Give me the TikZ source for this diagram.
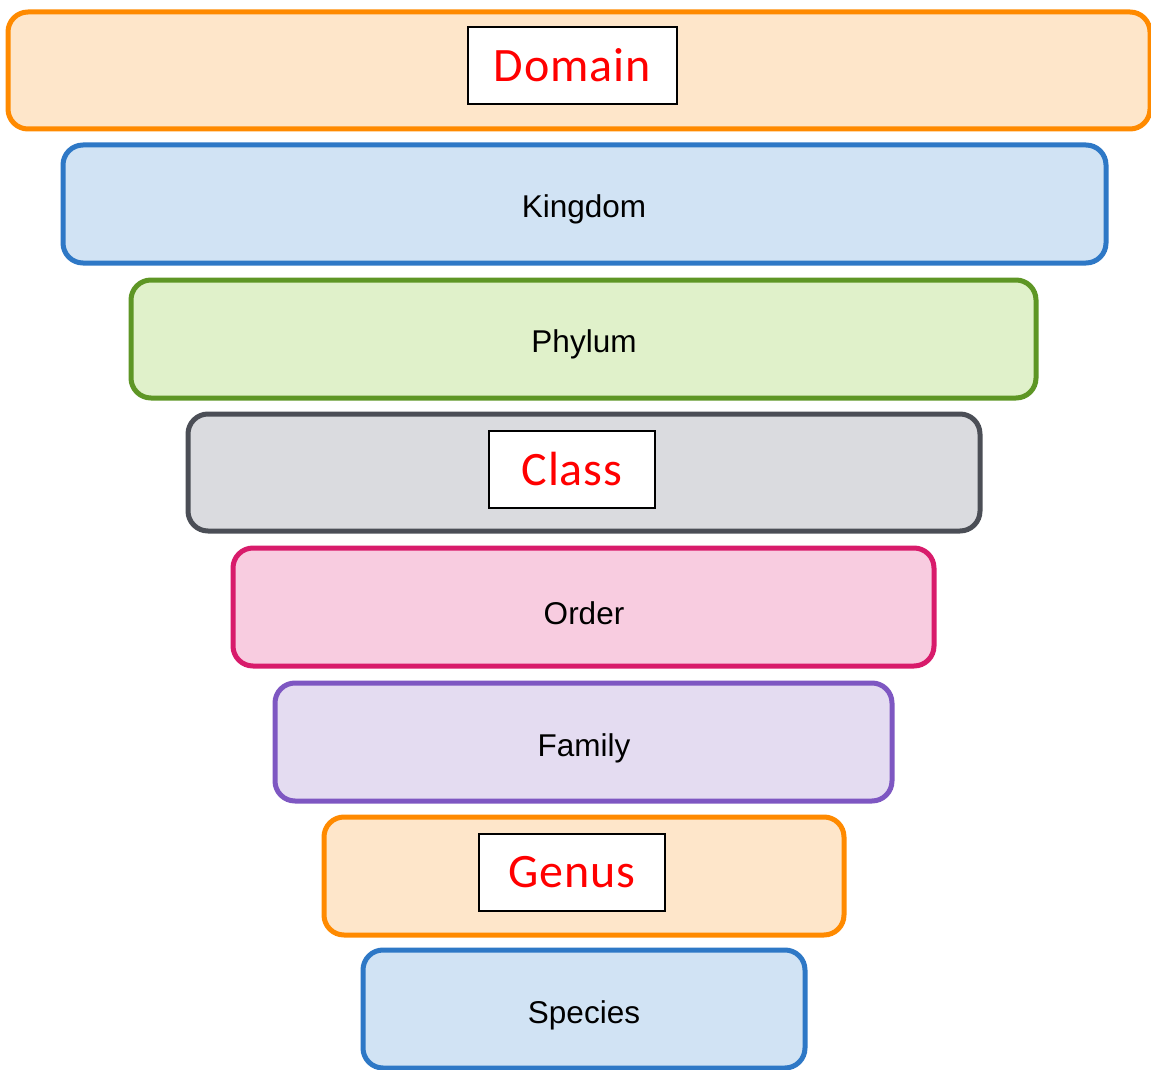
\documentclass[tikz,border=0pt]{standalone}
\usepackage{fontspec}
\setmainfont{Liberation Sans}
\newfontfamily\rankfont[LetterSpace=2]{Carlito}
\definecolor{orangeline}{HTML}{FF8A00}
\definecolor{orangefill}{HTML}{FEE6CA}
\definecolor{blueline}{HTML}{2E78C6}
\definecolor{bluefill}{HTML}{D1E3F4}
\definecolor{greenline}{HTML}{5E9625}
\definecolor{greenfill}{HTML}{E0F1CA}
\definecolor{greyline}{HTML}{4B4E56}
\definecolor{greyfill}{HTML}{DADBDF}
\definecolor{pinkline}{HTML}{D81B6B}
\definecolor{pinkfill}{HTML}{F8CCE0}
\definecolor{purpleline}{HTML}{7E57C2}
\definecolor{purplefill}{HTML}{E4DCF1}
\tikzset{
  tier/.style={draw, line width=5pt, rounded corners=20pt},
  rankname/.style={font=\fontsize{31.5}{37}\selectfont, text=black},
  keyrank/.style={draw=black, line width=2pt, fill=white, text=red,
    font=\rankfont\fontsize{48}{54}\selectfont, inner sep=0pt}
}
\begin{document}
\begin{tikzpicture}[x=1pt,y=-1pt]
\useasboundingbox (0,0) rectangle (1151,1070);
% funnel tiers, widest at the top
\draw[tier, draw=orangeline, fill=orangefill] (8,12) rectangle (1150,129);
\draw[tier, draw=blueline, fill=bluefill] (63,145) rectangle (1106,263);
\draw[tier, draw=greenline, fill=greenfill] (131,280) rectangle (1036,398);
\draw[tier, draw=greyline, fill=greyfill] (188,414) rectangle (980,531);
\draw[tier, draw=pinkline, fill=pinkfill] (233,548) rectangle (934,666);
\draw[tier, draw=purpleline, fill=purplefill] (275,683) rectangle (892,801);
\draw[tier, draw=orangeline, fill=orangefill] (324,817) rectangle (844,935);
\draw[tier, draw=blueline, fill=bluefill] (363,950) rectangle (805,1068);
% highlighted ranks
\node[keyrank, minimum width=209pt, minimum height=77pt] (domain) at (572.5,65.5) {Domain};
\node[keyrank, minimum width=166pt, minimum height=77pt] (class) at (572,469.5) {Class};
\node[keyrank, minimum width=186pt, minimum height=77pt] (genus) at (572,872.5) {Genus};
% plain ranks
\node[rankname] (kingdom) at (584,209.5) {Kingdom};
\node[rankname] (phylum) at (584,344.5) {Phylum};
\node[rankname] (order) at (584,613.5) {Order};
\node[rankname] (family) at (584,748.5) {Family};
\node[rankname] (species) at (584,1015.5) {Species};
\end{tikzpicture}
\end{document}
